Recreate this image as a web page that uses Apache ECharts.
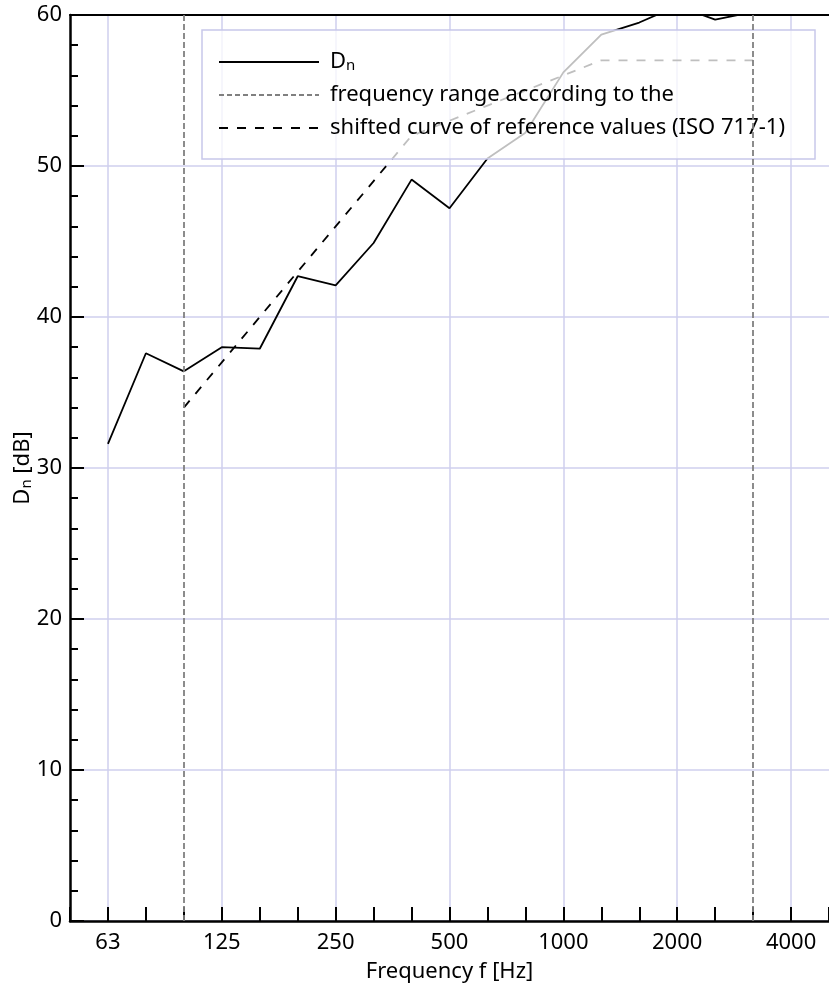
<!DOCTYPE html>
<html>
<head>
<meta charset="utf-8">
<script src="https://cdn.jsdelivr.net/npm/echarts@6/dist/echarts.min.js"></script>
<style>html,body{margin:0;padding:0;background:#fff;}#c{width:829px;height:993px;}</style>
</head>
<body>
<div id="c"></div>
<script>
var frequencies = ['50','63','80','100','125','160','200','250','315','400','500','630','800','1000','1250','1600','2000','2500','3150','4000','5000'];
var labelFreqs = ['63','125','250','500','1000','2000','4000'];
var dnValues = [null,31.6,37.6,36.4,38.0,37.9,42.7,42.1,44.9,49.1,47.2,50.5,52.2,56.2,58.7,59.5,60.6,59.7,60.2,null,null];
var refValues = [null,null,null,34,37,40,43,46,49,52,53,54,55,56,57,57,57,57,57,null,null];
var rangeLimits = ['100','3150'];
var yTicks = [0,10,20,30,40,50,60];

var FONT = 'Noto Sans';
var FS = 22;
var chart = echarts.init(document.getElementById('c'), null, {renderer:'canvas'});
function isLabel(i, v){ return labelFreqs.indexOf(frequencies[i]) >= 0; }
var option = {
  backgroundColor:'#fff',
  animation:false,
  textStyle:{fontFamily:FONT, color:'#000'},
  grid:{left:70, right:0, top:15, bottom:72, containLabel:false, outerBoundsMode:'none'},
  legend:{
    orient:'vertical', left:202, top:30,
    padding:[21,30,20,16], itemGap:11, itemHeight:22, itemWidth:100,
    backgroundColor:'rgba(255,255,255,0.75)', borderColor:'#c8c8ea', borderWidth:1.5,
    itemStyle:{opacity:0},
    textStyle:{fontFamily:FONT, fontSize:FS, color:'#000', padding:[0,0,0,6],
      rich:{a:{fontFamily:FONT, fontSize:FS, color:'#000'}, b:{fontFamily:FONT, fontSize:15, color:'#000', padding:[7,0,0,0]}}},
    formatter:function(n){ return n==='Dn' ? '{a|D}{b|n}' : n; },
    data:['Dn','frequency range according to the','shifted curve of reference values (ISO 717-1)']
  },
  xAxis:[{
    type:'category', data:frequencies, boundaryGap:false,
    name:'Frequency f [Hz]', nameLocation:'middle', nameGap:40, nameMoveOverlap:false,
    nameTextStyle:{fontFamily:FONT, fontSize:FS, color:'#000'},
    axisLine:{lineStyle:{color:'#000', width:2.5}},
    axisTick:{inside:true, length:14, interval:0, lineStyle:{color:'#000', width:2}},
    axisLabel:{interval:isLabel, fontFamily:FONT, fontSize:FS, color:'#000', margin:11},
    splitLine:{show:true, interval:isLabel, lineStyle:{color:'#cfcfee', width:1.5}}
  },{
    type:'category', data:frequencies, boundaryGap:false, position:'top',
    axisLine:{lineStyle:{color:'#000', width:2}}, axisTick:{show:false}, axisLabel:{show:false}, splitLine:{show:false}
  }],
  yAxis:{
    type:'value', min:yTicks[0], max:yTicks[yTicks.length-1], interval:10,
    name:'{a|D}{b|n}{a| [dB]}', nameLocation:'middle', nameGap:36, nameMoveOverlap:false,
    nameTextStyle:{rich:{a:{fontFamily:FONT, fontSize:FS, color:'#000'}, b:{fontFamily:FONT, fontSize:15, color:'#000', padding:[7,0,0,0]}}},
    axisLine:{show:true, lineStyle:{color:'#000', width:2.5}},
    axisTick:{show:true, inside:true, length:14, lineStyle:{color:'#000', width:2}},
    minorTick:{show:true, splitNumber:5, length:8, lineStyle:{color:'#000', width:2}},
    axisLabel:{fontFamily:FONT, fontSize:FS, color:'#000', margin:8},
    splitLine:{show:true, lineStyle:{color:'#cfcfee', width:1.5}}
  },
  series:[
    {name:'Dn', type:'line', data:dnValues, symbol:'none', connectNulls:false, clip:true,
     lineStyle:{color:'#000', width:1.8}, itemStyle:{color:'#000'}, z:3},
    {name:'frequency range according to the', type:'line', data:[], symbol:'none',
     lineStyle:{color:'#808080', width:1.5, type:[5,3]}, itemStyle:{color:'#808080'},
     markLine:{silent:true, symbol:['none','none'], label:{show:false},
       lineStyle:{color:'#808080', width:1.8, type:[6,3]},
       data:rangeLimits.map(function(f){return {xAxis:f};})}},
    {name:'shifted curve of reference values (ISO 717-1)', type:'line', data:refValues, symbol:'none', clip:true,
     lineStyle:{color:'#000', width:1.8, type:[9,9]}, itemStyle:{color:'#000'}}
  ]
};
chart.setOption(option);
</script>
</body>
</html>
